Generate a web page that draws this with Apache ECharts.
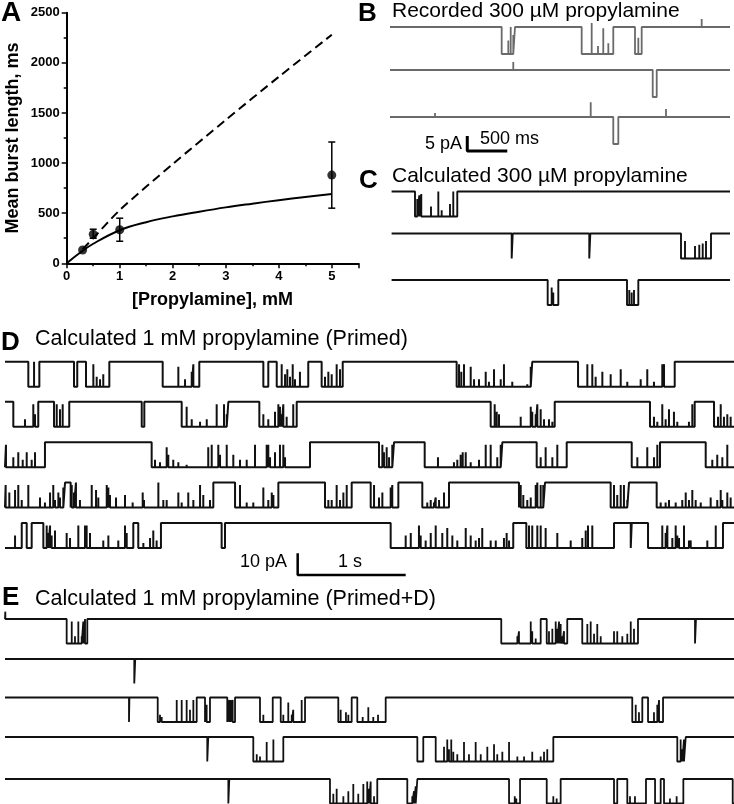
<!DOCTYPE html>
<html><head><meta charset="utf-8">
<script src="https://cdn.jsdelivr.net/npm/echarts@6/dist/echarts.min.js"></script>
<style>html,body{margin:0;padding:0;background:#fff}#c{width:734px;height:804px}</style>
</head><body><div id="c"></div>
<script>
// ---------------- Panel A data ----------------
const concentrations = [0.3, 0.5, 1, 5];          // mM
const meanBurst = [133, 290, 335, 880];            // ms
const errLow = [null, 250, 220, 550];
const errHigh = [null, 340, 450, 1210];
const fitConc = [0, 0.25, 0.5, 1, 1.5, 2, 2.5, 3, 3.5, 4, 4.5, 5];
const fitBurst = [0, 105, 195, 330, 410, 468, 515, 558, 595, 630, 662, 692];
const predConc = [0.3, 0.5, 1, 2, 3, 4, 5];
const predBurst = [140, 250, 530, 990, 1430, 1860, 2280];
const xTicksA = [0, 1, 2, 3, 4, 5];
const yTicksA = [0, 500, 1000, 1500, 2000, 2500];

// ---------------- Traces: bursts [start s, end s, [[closure time s, height fraction]]] ----------------
// B: recorded 300 uM (time in s)
const b1Bursts = [[1.396,1.5625,[[1.479,0.5],[1.509,1.0],[1.541,0.7]]],[2.396,2.791,[[2.521,1.15],[2.6,0.3],[2.666,0.95],[2.729,0.4]]],[3.0625,3.146,[[3.104,0.6]]]];
const b1Blips = [[3.896,0.3]];
const b2Bursts = [[3.284,3.334,[]]];
const b2Blips = [[1.541,0.3]];
const b3Bursts = [[2.791,2.854,[]]];
const b3Blips = [[0.5625,0.15],[2.509,0.55],[3.45,0.3]];
// C: calculated 300 uM
const c1Bursts = [[0.3125,0.841,[[0.341,0.7],[0.366,0.85],[0.391,0.9],[0.5125,0.4],[0.604,1.0],[0.646,0.25],[0.75,0.5],[0.791,1.0]]]];
const c2Bursts = [[1.521,1.534,[]],[2.491,2.504,[]],[3.6375,4.0125,[[3.6875,0.7],[3.8125,0.5],[3.866,0.55],[3.909,0.6],[3.95,0.7]]]];
const c3Bursts = [[1.971,2.104,[[2.021,0.7],[2.041,0.5]]],[2.9625,3.104,[[2.991,0.6],[3.021,0.5],[3.05,0.6]]]];
// D: calculated 1 mM (Primed)
const d1Bursts = [[0.216,0.318,[[0.269,1.0]]],[0.639,0.669,[]],[0.750,0.966,[[0.818,0.9],[0.849,0.4],[0.880,0.3],[0.910,0.5]]],[1.460,1.799,[[1.605,0.8],[1.667,0.3],[1.729,0.6],[1.744,0.9]]],[2.392,2.438,[]],[2.516,2.808,[[2.562,0.9],[2.593,0.5],[2.614,0.7],[2.639,0.4],[2.664,0.9],[2.685,0.3],[2.731,0.6]]],[2.932,3.127,[[2.963,0.4],[2.994,0.6],[3.025,0.5],[3.071,0.9],[3.102,0.7]]],[4.182,4.882,[[4.204,0.9],[4.225,0.6],[4.250,0.9],[4.312,0.8],[4.343,0.3],[4.389,0.3],[4.451,0.6],[4.481,0.2],[4.528,0.7],[4.590,0.3],[4.620,0.9],[4.697,0.2],[4.836,0.1],[4.868,0.8]]],[5.306,6.201,[[5.392,0.9],[5.438,0.9],[5.469,0.4],[5.531,0.6],[5.608,0.5],[5.701,0.7],[5.762,0.2],[5.886,0.3],[5.947,0.7],[6.009,0.2],[6.086,0.9],[6.102,0.9]]]];
const d2Bursts = [[0.077,0.308,[[0.185,0.3],[0.262,0.9],[0.278,0.5]]],[0.454,0.595,[[0.479,0.9],[0.509,0.7],[0.534,0.9]]],[1.266,1.290,[]],[1.636,2.068,[[1.682,0.8],[1.729,0.3],[1.806,0.2],[1.868,0.3],[1.960,0.9],[2.028,0.9],[2.053,0.5]]],[2.355,2.701,[[2.392,0.5],[2.438,0.3],[2.500,0.6],[2.531,0.9],[2.546,0.8],[2.562,0.5],[2.577,0.9],[2.608,0.4],[2.669,0.9]]],[4.497,5.090,[[4.534,0.9],[4.553,0.6],[4.574,0.5],[4.775,0.4],[4.868,0.8],[4.882,0.6],[4.914,0.5],[4.929,0.9],[4.960,0.7],[4.991,0.3],[5.037,0.3],[5.068,0.2]]],[5.972,6.386,[[6.009,0.4],[6.040,0.2],[6.086,0.9],[6.117,0.3],[6.148,0.7],[6.194,0.6],[6.225,0.2],[6.333,0.2],[6.364,0.9]]],[6.565,6.75,[[6.602,0.4],[6.627,0.9],[6.657,0.4],[6.688,0.5],[6.719,0.4]]]];
const d3Bursts = [[0,0.370,[[0.009,0.9],[0.077,0.4],[0.123,0.6],[0.164,0.3],[0.201,0.6],[0.247,0.3],[0.278,0.6]]],[1.358,2.824,[[1.389,0.3],[1.435,0.2],[1.497,0.8],[1.512,0.5],[1.558,0.3],[1.605,0.2],[1.682,0.1],[1.882,0.8],[1.914,0.9],[1.975,0.9],[1.991,0.5],[2.053,0.9],[2.114,0.5],[2.176,0.3],[2.238,0.3],[2.315,0.9],[2.423,0.9],[2.438,0.9],[2.454,0.4],[2.500,0.6],[2.546,0.9],[2.577,0.9],[2.593,0.4]]],[3.463,3.602,[[3.494,0.9],[3.509,0.6],[3.534,0.8],[3.556,0.4],[3.586,0.9]]],[3.886,4.605,[[4.009,0.4],[4.157,0.2],[4.188,0.3],[4.219,0.5],[4.238,0.6],[4.266,0.6],[4.312,0.2],[4.389,0.3],[4.451,0.9],[4.497,0.9],[4.558,0.4],[4.590,0.9]]],[4.923,5.201,[[4.960,0.4],[5.006,0.8],[5.068,0.4],[5.114,0.9]]],[5.803,6.065,[[5.855,0.4],[5.947,0.8],[6.009,0.4],[6.040,0.9]]],[6.488,6.75,[[6.549,0.3],[6.595,0.5],[6.642,0.4],[6.688,0.9]]]];
const d4Bursts = [[0,0.556,[[0.006,0.9],[0.040,0.6],[0.093,0.7],[0.123,0.9],[0.155,0.3],[0.216,0.9],[0.324,0.4],[0.370,0.2],[0.417,0.6],[0.447,0.9],[0.463,0.3],[0.494,0.6],[0.509,0.4],[0.540,0.8]]],[0.608,1.929,[[0.618,0.9],[0.639,0.6],[0.657,1.0],[0.694,0.3],[0.803,0.9],[0.843,0.7],[0.864,0.4],[0.942,0.9],[0.957,0.8],[0.972,0.5],[1.028,0.4],[1.111,0.5],[1.182,0.2],[1.275,0.6],[1.287,0.3],[1.420,1.0],[1.466,0.3],[1.497,0.3],[1.605,0.6],[1.636,0.2],[1.697,0.6],[1.744,0.3],[1.806,0.9],[1.836,0.5],[1.898,0.3]]],[2.130,2.531,[[2.176,0.9],[2.238,0.2],[2.299,0.2],[2.392,0.8],[2.438,0.3],[2.470,0.6],[2.485,0.5]]],[2.963,3.210,[[2.994,0.3],[3.025,0.3],[3.071,0.9],[3.102,0.3],[3.133,0.6],[3.164,0.9]]],[3.386,3.642,[[3.417,0.9],[3.463,0.4],[3.494,0.6],[3.571,0.8],[3.586,0.9]]],[3.864,4.111,[[3.910,0.2],[3.942,0.3],[3.972,0.2],[3.988,0.4],[4.019,0.3],[4.065,0.6]]],[4.759,5.000,[[4.775,0.9],[4.799,0.5],[4.836,0.3],[4.868,0.4],[4.914,0.9],[4.929,1.0],[4.960,0.9],[4.984,0.9]]],[5.608,5.778,[[5.639,0.9],[5.669,0.5],[5.701,0.9],[5.731,0.9],[5.762,0.3]]],[6.034,6.75,[[6.071,0.2],[6.117,0.2],[6.148,0.3],[6.210,0.2],[6.271,0.3],[6.303,0.6],[6.333,0.3],[6.364,0.7],[6.395,0.3],[6.442,0.2],[6.534,0.4],[6.595,0.3],[6.627,0.7],[6.642,0.3],[6.688,0.6],[6.719,0.4]]]];
const d5Bursts = [[0,0.155,[[0.093,0.5]]],[0.201,0.247,[]],[0.355,1.188,[[0.386,0.9],[0.401,0.6],[0.417,0.9],[0.432,0.5],[0.463,0.7],[0.571,0.6],[0.602,0.4],[0.679,0.9],[0.741,0.9],[0.756,0.9],[0.787,0.6],[0.910,0.3],[0.957,0.5],[1.049,0.3],[1.111,0.9],[1.127,0.6]]],[1.234,1.444,[[1.281,0.2],[1.343,0.4],[1.373,0.7],[1.404,0.3]]],[2.006,2.037,[]],[3.571,4.706,[[3.710,0.5],[3.757,0.6],[3.833,0.9],[3.849,0.5],[3.895,0.3],[3.942,0.6],[3.988,0.9],[4.049,0.6],[4.095,0.8],[4.142,0.5],[4.188,0.3],[4.266,0.8],[4.312,0.5],[4.358,0.3],[4.389,0.4],[4.419,0.8],[4.497,0.3],[4.544,0.3],[4.620,0.4],[4.645,0.6],[4.667,0.3]]],[4.827,5.639,[[4.852,0.9],[4.882,0.9],[4.929,0.9],[4.960,0.9],[5.006,0.8],[5.114,0.6],[5.238,0.3],[5.345,0.4],[5.377,0.7],[5.398,0.9],[5.438,0.9]]],[5.794,5.803,[]],[5.954,6.648,[[6.086,0.9],[6.117,0.6],[6.133,0.9],[6.179,0.4],[6.210,0.9],[6.225,0.5],[6.241,0.4],[6.287,0.9],[6.333,0.3],[6.349,0.3],[6.503,0.3],[6.581,0.9]]]];
// E: calculated 1 mM (Primed+D)
const e1Bursts = [[0.571,0.762,[[0.618,0.9],[0.648,0.3],[0.679,0.9],[0.710,0.3],[0.725,0.9],[0.741,1.0]]],[4.595,4.960,[[4.744,0.3],[4.759,0.5],[4.868,0.9],[4.882,0.5],[4.914,0.2]]],[5.016,5.206,[[5.037,0.5],[5.068,0.6],[5.099,0.9],[5.114,0.6],[5.130,0.9],[5.145,0.8],[5.160,0.3],[5.176,0.5]]],[5.345,5.861,[[5.392,0.8],[5.423,0.9],[5.454,0.4],[5.484,0.8],[5.516,0.3],[5.639,0.5],[5.669,0.5],[5.716,0.3],[5.762,0.4],[5.794,0.9],[5.824,0.6]]],[6.389,6.398,[]]];
const e1Blips = [[0.003,0.3]];
const e2Bursts = [[1.197,1.206,[]]];
const e3Bursts = [[1.148,1.152,[]],[1.414,1.775,[[1.435,0.3],[1.451,0.2],[1.590,0.9],[1.636,0.9],[1.682,0.9],[1.713,0.5],[1.744,0.9]]],[1.852,1.898,[[1.867,0.7]]],[2.058,2.130,[[2.076,0.9],[2.090,0.9],[2.108,0.9]]],[2.361,2.479,[[2.392,0.3]]],[2.553,2.778,[[2.577,0.3],[2.623,0.8],[2.655,0.3],[2.669,0.5],[2.747,0.9]]],[3.086,3.210,[[3.108,0.5],[3.157,0.4],[3.179,0.3]]],[3.262,3.525,[[3.312,0.2],[3.364,0.6],[3.410,0.2],[3.454,0.3]]],[5.808,5.901,[[5.840,0.7],[5.870,0.4]]],[5.954,6.093,[[6.009,0.4],[6.040,0.7],[6.056,0.9]]]];
const e4Bursts = [[1.873,1.882,[]],[2.299,2.577,[[2.331,0.3],[2.361,0.2],[2.423,0.8],[2.485,0.9]]],[3.818,3.873,[]],[3.988,5.077,[[4.065,0.6],[4.095,0.9],[4.111,0.5],[4.132,0.9],[4.151,0.4],[4.188,0.3],[4.250,0.8],[4.296,0.3],[4.358,0.8],[4.405,0.3],[4.466,0.6],[4.528,0.7],[4.558,0.3],[4.605,0.4],[4.667,0.8],[4.744,0.2],[4.806,0.2],[4.882,0.4],[4.960,0.2],[4.991,0.4],[5.021,0.5]]],[6.225,6.303,[[6.256,0.9],[6.271,0.5],[6.287,0.9]]]];
const e5Bursts = [[2.068,2.077,[]],[3.009,3.447,[[3.040,0.4],[3.071,0.6],[3.133,0.3],[3.179,0.5],[3.225,0.8],[3.271,0.4],[3.318,0.8],[3.354,0.9],[3.370,0.6],[3.386,0.9],[3.417,0.3]]],[3.725,3.818,[[3.771,0.3],[3.787,0.5],[3.803,0.7]]],[4.667,4.769,[[4.720,0.3],[4.734,0.2]]],[5.016,5.145,[[5.077,0.3],[5.108,0.2]]],[5.639,5.669,[]],[5.762,5.935,[[5.787,0.3],[5.833,0.3]]],[6.019,6.071,[]],[6.102,6.281,[[6.157,0.2],[6.219,0.3]]],[6.738,6.75,[]]];

// amplitudes (pA) and durations (s)
const B_AMP = 9, C_AMP = 9, DE_AMP = 11.5;
const BC_DUR = 4.25, DE_DUR = 6.75;
// scale bars
const scaleBarB = {dt: 0.5, di: 5};
const scaleBarD = {dt: 1, di: 10};

// ---------------- layout ----------------
const FONT = '"Liberation Sans", Arial, Helvetica, sans-serif';
const traceLayout = [
  {bursts: b1Bursts, blips: b1Blips, left: 390, top: 27, width: 340, height: 27, A: B_AMP, t0: 0, T: BC_DUR, color: '#6a6a6a', w: 1.8},
  {bursts: b2Bursts, blips: b2Blips, left: 390, top: 70, width: 340, height: 27, A: B_AMP, t0: 0, T: BC_DUR, color: '#6a6a6a', w: 1.8},
  {bursts: b3Bursts, blips: b3Blips, left: 390, top: 117, width: 340, height: 27, A: B_AMP, t0: 0, T: BC_DUR, color: '#6a6a6a', w: 1.8},
  {bursts: c1Bursts, left: 390, top: 191.5, width: 340, height: 25, A: C_AMP, t0: 0.02, T: BC_DUR, color: '#111', w: 1.9},
  {bursts: c2Bursts, left: 390, top: 233.5, width: 340, height: 25, A: C_AMP, t0: 0.02, T: BC_DUR, color: '#111', w: 1.9},
  {bursts: c3Bursts, left: 390, top: 280, width: 340, height: 25, A: C_AMP, t0: 0.02, T: BC_DUR, color: '#111', w: 1.9},
  {bursts: d1Bursts, left: 5, top: 361.7, width: 729, height: 25, A: DE_AMP, t0: 0, T: DE_DUR, color: '#111', w: 2},
  {bursts: d2Bursts, left: 5, top: 401.7, width: 729, height: 25, A: DE_AMP, t0: 0, T: DE_DUR, color: '#111', w: 2},
  {bursts: d3Bursts, left: 5, top: 442.3, width: 729, height: 25, A: DE_AMP, t0: 0, T: DE_DUR, color: '#111', w: 2},
  {bursts: d4Bursts, left: 5, top: 482.5, width: 729, height: 25, A: DE_AMP, t0: 0, T: DE_DUR, color: '#111', w: 2},
  {bursts: d5Bursts, left: 5, top: 523, width: 729, height: 25, A: DE_AMP, t0: 0, T: DE_DUR, color: '#111', w: 2},
  {bursts: e1Bursts, blips: e1Blips, left: 5, top: 619, width: 729, height: 24.5, A: DE_AMP, t0: 0, T: DE_DUR, color: '#111', w: 1.8},
  {bursts: e2Bursts, left: 5, top: 659, width: 729, height: 24.5, A: DE_AMP, t0: 0, T: DE_DUR, color: '#111', w: 1.8},
  {bursts: e3Bursts, left: 5, top: 697.5, width: 729, height: 24.5, A: DE_AMP, t0: 0, T: DE_DUR, color: '#111', w: 1.8},
  {bursts: e4Bursts, left: 5, top: 737, width: 729, height: 24.5, A: DE_AMP, t0: 0, T: DE_DUR, color: '#111', w: 1.8},
  {bursts: e5Bursts, left: 5, top: 779, width: 729, height: 24.5, A: DE_AMP, t0: 0, T: DE_DUR, color: '#111', w: 1.8}
];

function tracePoints(bursts, blips, A, t0, T) {
  const ev = [];
  bursts.forEach(b => ev.push({t: b[0], kind: 'b', v: b}));
  (blips || []).forEach(p => ev.push({t: p[0], kind: 'p', v: p}));
  ev.sort((a, b) => a.t - b.t);
  const pts = [];
  if (ev.length && ev[0].kind === 'b' && ev[0].t <= t0) pts.push([t0, -A]); else pts.push([t0, 0]);
  for (const e of ev) {
    if (e.kind === 'b') {
      const [s, en, sp] = e.v;
      if (s > t0) pts.push([s, 0], [s, -A]);
      for (const [t, h] of (sp || [])) pts.push([t, -A], [t, -A + h * A], [t, -A]);
      if (en >= T) { pts.push([T, -A]); return pts; }
      pts.push([en, -A], [en, 0]);
    } else {
      const [t, h] = e.v;
      pts.push([t, 0], [t, h * A], [t, 0]);
    }
  }
  pts.push([T, 0]);
  return pts;
}

const grids = [{left: 66.7, top: 12.7, width: 291.6, height: 250.6}];
const xAxes = [{
  gridIndex: 0, type: 'value', min: 0, max: 5.5, interval: 1,
  axisLine: {onZero: false, lineStyle: {color: '#000', width: 2}},
  axisTick: {length: 5, lineStyle: {color: '#000', width: 1.5}},
  minorTick: {show: true, splitNumber: 2, length: 3, lineStyle: {color: '#000', width: 1.5}},
  splitLine: {show: false}, minorSplitLine: {show: false},
  axisLabel: {fontFamily: FONT, fontWeight: 'bold', fontSize: 13, color: '#000', margin: 7,
    formatter: v => (xTicksA.indexOf(v) >= 0 ? String(v) : '')},
  name: '[Propylamine], mM', nameLocation: 'middle', nameGap: 28,
  nameTextStyle: {fontFamily: FONT, fontWeight: 'bold', fontSize: 18, color: '#000'}
}];
const yAxes = [{
  gridIndex: 0, type: 'value', min: 0, max: 2500, interval: 500,
  axisLine: {show: true, lineStyle: {color: '#000', width: 2}},
  axisTick: {show: true, length: 5, lineStyle: {color: '#000', width: 1.5}},
  minorTick: {show: true, splitNumber: 2, length: 3, lineStyle: {color: '#000', width: 1.5}},
  splitLine: {show: false}, minorSplitLine: {show: false},
  axisLabel: {fontFamily: FONT, fontWeight: 'bold', fontSize: 13, color: '#000', margin: 7,
    formatter: v => (yTicksA.indexOf(v) >= 0 ? String(v) : '')},
  name: 'Mean burst length, ms', nameLocation: 'middle', nameGap: 45, nameRotate: 90,
  nameTextStyle: {fontFamily: FONT, fontWeight: 'bold', fontSize: 18, color: '#000'}
}];

const series = [
  {type: 'line', xAxisIndex: 0, yAxisIndex: 0, data: predConc.map((c, i) => [c, predBurst[i]]), smooth: 0.3,
   showSymbol: false, lineStyle: {color: '#000', width: 2, type: [9, 5]}, silent: true, z: 2},
  {type: 'line', xAxisIndex: 0, yAxisIndex: 0, data: fitConc.map((c, i) => [c, fitBurst[i]]), smooth: 0.4,
   showSymbol: false, lineStyle: {color: '#000', width: 2}, silent: true, z: 3},
  {type: 'custom', xAxisIndex: 0, yAxisIndex: 0, z: 4,
   data: concentrations.map((c, i) => [c, errLow[i], errHigh[i]]).filter(d => d[1] != null),
   renderItem: function (params, api) {
     const x = api.value(0), p1 = api.coord([x, api.value(1)]), p2 = api.coord([x, api.value(2)]);
     const w = 3.5, st = {stroke: '#000', lineWidth: 1.5};
     return {type: 'group', children: [
       {type: 'line', shape: {x1: p1[0], y1: p1[1], x2: p2[0], y2: p2[1]}, style: st},
       {type: 'line', shape: {x1: p1[0] - w, y1: p1[1], x2: p1[0] + w, y2: p1[1]}, style: st},
       {type: 'line', shape: {x1: p2[0] - w, y1: p2[1], x2: p2[0] + w, y2: p2[1]}, style: st}
     ]};
   }},
  {type: 'scatter', xAxisIndex: 0, yAxisIndex: 0, data: concentrations.map((c, i) => [c, meanBurst[i]]),
   symbol: 'circle', symbolSize: 9, itemStyle: {color: '#000'}, z: 5}
];

traceLayout.forEach((tr, k) => {
  const gi = k + 1;
  grids.push({left: tr.left, top: tr.top, width: tr.width, height: tr.height});
  xAxes.push({gridIndex: gi, type: 'value', min: 0, max: tr.T, show: false});
  yAxes.push({gridIndex: gi, type: 'value', min: -tr.A, max: 0, show: false});
  series.push({type: 'line', xAxisIndex: gi, yAxisIndex: gi, data: tracePoints(tr.bursts, tr.blips, tr.A, tr.t0, tr.T),
    showSymbol: false, clip: false, silent: true, lineStyle: {color: tr.color, width: tr.w}});
});

// scale bars drawn in the coordinate systems of B3 (grid 3) and D5 (grid 11)
const sbB0 = [0.966, -6.3];
series.push({type: 'line', xAxisIndex: 3, yAxisIndex: 3, clip: false, silent: true, showSymbol: false,
  data: [[sbB0[0], sbB0[1]], [sbB0[0], sbB0[1] - scaleBarB.di], [sbB0[0] + scaleBarB.dt, sbB0[1] - scaleBarB.di]],
  lineStyle: {color: '#000', width: 3}});
const sbD0 = [2.71, -13.9];
series.push({type: 'line', xAxisIndex: 11, yAxisIndex: 11, clip: false, silent: true, showSymbol: false,
  data: [[sbD0[0], sbD0[1]], [sbD0[0], sbD0[1] - scaleBarD.di], [sbD0[0] + scaleBarD.dt, sbD0[1] - scaleBarD.di]],
  lineStyle: {color: '#000', width: 2.5}});

function txt(text, x, y, size, bold) {
  return {type: 'text', x: x, y: y, silent: true,
    style: {text: text, font: (bold ? 'bold ' : '') + size + 'px ' + FONT, fill: '#000', align: 'left', verticalAlign: 'middle'}};
}
const graphics = [
  txt('A', 1, 13.5, 28, true),
  txt('B', 358, 14, 26, true),
  txt('C', 359, 181, 26, true),
  txt('D', 1, 342.5, 26, true),
  txt('E', 2, 597.5, 26, true),
  txt('Recorded 300 \u00b5M propylamine', 392, 11, 21, false),
  txt('Calculated 300 \u00b5M propylamine', 392, 176, 21, false),
  txt('Calculated 1 mM propylamine (Primed)', 35, 338.7, 21.5, false),
  txt('Calculated 1 mM propylamine (Primed+D)', 35, 598.7, 21.5, false),
  txt('5 pA', 425, 143.7, 18, false),
  txt('500 ms', 480, 138.7, 18, false),
  txt('10 pA', 240, 561.7, 18, false),
  txt('1 s', 338, 561.7, 18, false)
];

const chart = echarts.init(document.getElementById('c'), null, {renderer: 'canvas'});
chart.setOption({
  animation: false, backgroundColor: '#fff',
  grid: grids, xAxis: xAxes, yAxis: yAxes, series: series, graphic: graphics
});
</script></body></html>
